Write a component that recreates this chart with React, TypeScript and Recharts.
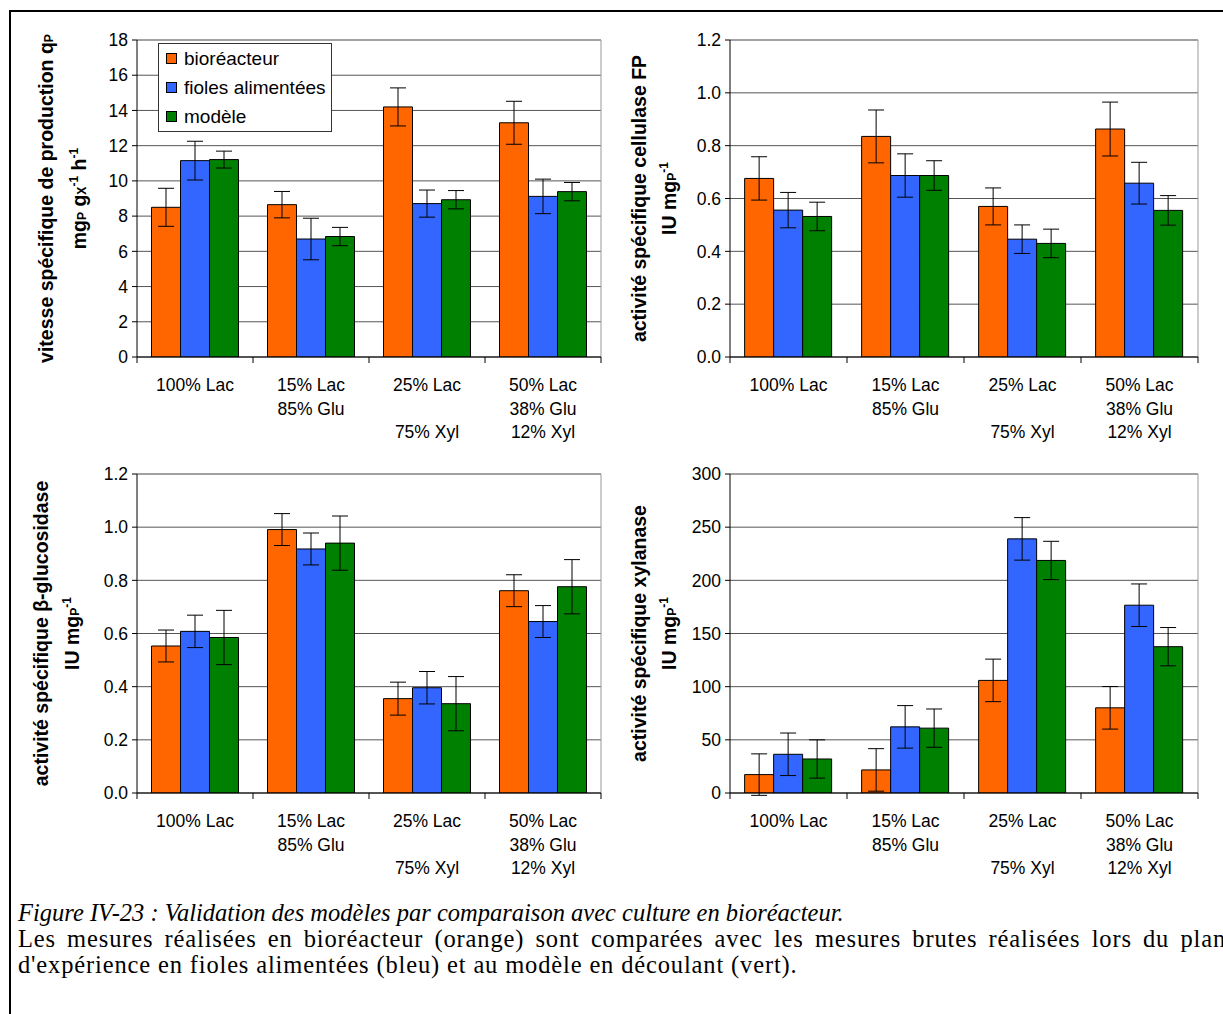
import React from "react";
import { BarChart, Bar, XAxis, YAxis, CartesianGrid, ErrorBar, Legend, ReferenceLine } from "recharts";

const categories = ["100% Lac", "15% Lac\n85% Glu", "25% Lac\n\n75% Xyl", "50% Lac\n38% Glu\n12% Xyl"];
const seriesNames = ["bioréacteur", "fioles alimentées", "modèle"];
const seriesColors = ["#FF6600", "#3366FF", "#008000"];

// vitesse spécifique de production qP
const qpBio = [8.5, 8.65, 14.2, 13.3];
const qpBioErr = [1.08, 0.75, 1.08, 1.22];
const qpFed = [11.15, 6.7, 8.71, 9.12];
const qpFedErr = [1.1, 1.18, 0.77, 0.98];
const qpModel = [11.21, 6.84, 8.93, 9.39];
const qpModelErr = [0.48, 0.52, 0.52, 0.52];
const qpTicks = [0, 2, 4, 6, 8, 10, 12, 14, 16, 18];

// cellulase FP
const fpBio = [0.676, 0.835, 0.57, 0.863];
const fpBioErr = [0.082, 0.1, 0.07, 0.102];
const fpFed = [0.556, 0.687, 0.446, 0.658];
const fpFedErr = [0.067, 0.082, 0.054, 0.079];
const fpModel = [0.532, 0.687, 0.43, 0.555];
const fpModelErr = [0.054, 0.056, 0.054, 0.056];
const fpTicks = [0, 0.2, 0.4, 0.6, 0.8, 1.0, 1.2];

// β-glucosidase
const bgBio = [0.553, 0.991, 0.355, 0.761];
const bgBioErr = [0.06, 0.06, 0.062, 0.06];
const bgFed = [0.608, 0.918, 0.396, 0.645];
const bgFedErr = [0.061, 0.06, 0.061, 0.06];
const bgModel = [0.585, 0.94, 0.336, 0.776];
const bgModelErr = [0.102, 0.102, 0.102, 0.102];
const bgTicks = [0, 0.2, 0.4, 0.6, 0.8, 1.0, 1.2];

// xylanase
const xyBio = [17.3, 21.7, 105.9, 80.1];
const xyBioErr = [19.5, 20, 20, 20];
const xyFed = [36.4, 62.2, 239, 176.6];
const xyFedErr = [20, 20, 20, 20];
const xyModel = [32, 61, 218.7, 137.6];
const xyModelErr = [18, 18, 18, 18];
const xyTicks = [0, 50, 100, 150, 200, 250, 300];

const FONT = "'Liberation Sans', Arial, sans-serif";
const TICK_FS = 17.5;
const LABEL_FS = 19.5;

type LabelPart = { t: string; k?: "sub" | "sup" };

const qpLabel1: LabelPart[] = [{ t: "vitesse spécifique de production q" }, { t: "P", k: "sub" }];
const qpLabel2: LabelPart[] = [
  { t: "mg" }, { t: "P", k: "sub" }, { t: " g" }, { t: "X", k: "sub" }, { t: "-1", k: "sup" },
  { t: " h" }, { t: "-1", k: "sup" },
];
const iuLabel: LabelPart[] = [{ t: "IU mg" }, { t: "P", k: "sub" }, { t: "-1", k: "sup" }];

function buildRows(a: number[], ae: number[], b: number[], be: number[], c: number[], ce: number[]) {
  return categories.map((cat, i) => ({
    cat, s0: a[i], e0: ae[i], s1: b[i], e1: be[i], s2: c[i], e2: ce[i],
  }));
}

function renderParts(parts: LabelPart[], size: number) {
  const out: React.ReactNode[] = [];
  let shift = 0;
  parts.forEach((p, i) => {
    let target = 0;
    let fs = size;
    if (p.k === "sub") { target = 0; fs = size * 0.62; }
    if (p.k === "sup") { target = -size * 0.42; fs = size * 0.62; }
    const dy = target - shift;
    shift = target;
    out.push(
      <tspan key={i} dy={dy} fontSize={fs}>{p.t}</tspan>
    );
  });
  return out;
}

const CatTick = (props: any) => {
  const { x, y, payload, index, band, count } = props;
  const lines = String(payload.value).split("\n");
  return (
    <g>
      <line x1={x - band / 2} x2={x - band / 2} y1={y} y2={y + 6} stroke="#000" />
      {index === count - 1 && (
        <line x1={x + band / 2} x2={x + band / 2} y1={y} y2={y + 6} stroke="#000" />
      )}
      {lines.map((l: string, i: number) => (
        <text key={i} x={x} y={y + 34 + i * 23.5} textAnchor="middle" fontSize={TICK_FS} fill="#000" fontFamily={FONT}>
          {l}
        </text>
      ))}
    </g>
  );
};

const LegendBox = () => (
  <div
    style={{
      width: 172, height: 87, background: "#fff", border: "1px solid #333",
      fontFamily: FONT, fontSize: 19, color: "#000", boxSizing: "content-box",
    }}
  >
    {seriesNames.map((n, i) => (
      <div key={n} style={{ display: "flex", alignItems: "center", height: 29, paddingLeft: 7 }}>
        <span style={{ width: 9, height: 9, background: seriesColors[i], border: "1px solid #000", marginRight: 7 }} />
        {n}
      </div>
    ))}
  </div>
);

type PanelProps = {
  left: number; top: number; width: number; height: number;
  margin: { top: number; right: number; bottom: number; left: number };
  rows: any[]; ticks: number[]; decimals: number;
  label1: LabelPart[]; label2: LabelPart[]; l1x: number; l2x: number;
  showLegend?: boolean;
};

function Panel(p: PanelProps) {
  const plotLeft = p.margin.left + 60;
  const plotRight = p.width - p.margin.right;
  const band = (plotRight - plotLeft) / categories.length;
  const midY = p.margin.top + (p.height - p.margin.top - p.margin.bottom - 30) / 2;
  const max = p.ticks[p.ticks.length - 1];
  return (
    <div style={{ position: "absolute", left: p.left, top: p.top }}>
      <BarChart
        width={p.width}
        height={p.height}
        data={p.rows}
        margin={p.margin}
        barCategoryGap="12.5%"
        barGap={0}
      >
        <CartesianGrid vertical={false} stroke="#555" />
        <CartesianGrid horizontal={false} verticalPoints={[plotRight]} stroke="#999" />
        <ReferenceLine y={max} stroke="#999" />
        <XAxis
          dataKey="cat"
          height={30}
          interval={0}
          tickLine={false}
          tickSize={0}
          tickMargin={0}
          axisLine={{ stroke: "#000" }}
          tick={(tp: any) => <CatTick {...tp} band={band} count={categories.length} />}
        />
        <YAxis
          width={60}
          domain={[0, max]}
          allowDataOverflow
          ticks={p.ticks}
          interval={0}
          tickSize={5}
          tickMargin={4}
          axisLine={{ stroke: "#000" }}
          tickLine={{ stroke: "#000" }}
          tick={{ fontSize: TICK_FS, fill: "#000", fontFamily: FONT }}
          tickFormatter={(v: number) => v.toFixed(p.decimals)}
          label={{
            content: () => (
              <g fontFamily={FONT} fontWeight="bold" fill="#000">
                <text transform={`translate(${p.l1x},${midY}) rotate(-90)`} textAnchor="middle" fontSize={LABEL_FS}>
                  {renderParts(p.label1, LABEL_FS)}
                </text>
                <text transform={`translate(${p.l2x},${midY}) rotate(-90)`} textAnchor="middle" fontSize={LABEL_FS}>
                  {renderParts(p.label2, LABEL_FS)}
                </text>
              </g>
            ),
          }}
        />
        {p.showLegend && (
          <Legend
            content={() => <LegendBox />}
            layout="vertical"
            align="center"
            verticalAlign="middle"
            wrapperStyle={{ position: "absolute", left: 158, top: 43, width: 174, height: 89 }}
          />
        )}
        {[0, 1, 2].map((s) => (
          <Bar
            key={s}
            dataKey={`s${s}`}
            name={seriesNames[s]}
            fill={seriesColors[s]}
            stroke="#000"
            strokeWidth={1}
            isAnimationActive={false}
          >
            <ErrorBar dataKey={`e${s}`} width={8} stroke="#000" strokeWidth={1} direction="y" />
          </Bar>
        ))}
      </BarChart>
    </div>
  );
}

export default function App() {
  const qpRows = buildRows(qpBio, qpBioErr, qpFed, qpFedErr, qpModel, qpModelErr);
  const fpRows = buildRows(fpBio, fpBioErr, fpFed, fpFedErr, fpModel, fpModelErr);
  const bgRows = buildRows(bgBio, bgBioErr, bgFed, bgFedErr, bgModel, bgModelErr);
  const xyRows = buildRows(xyBio, xyBioErr, xyFed, xyFedErr, xyModel, xyModelErr);

  return (
    <div style={{ position: "absolute", left: 0, top: 0, width: 1223, height: 1014, overflow: "hidden", background: "#fff" }}>
      {/* frame */}
      <div style={{ position: "absolute", left: 9, top: 10, width: 1300, height: 1100, border: "2px solid #000" }} />

      <Panel
        left={0} top={0} width={620} height={450}
        margin={{ top: 40, right: 19, bottom: 63, left: 77 }}
        rows={qpRows} ticks={qpTicks} decimals={0}
        label1={qpLabel1} label2={qpLabel2} l1x={53} l2x={86}
        showLegend
      />
      <Panel
        left={600} top={0} width={623} height={450}
        margin={{ top: 40, right: 25, bottom: 63, left: 70 }}
        rows={fpRows} ticks={fpTicks} decimals={1}
        label1={[{ t: "activité spécifique cellulase FP" }]} label2={iuLabel} l1x={46} l2x={76}
      />
      <Panel
        left={0} top={450} width={620} height={440}
        margin={{ top: 24, right: 19, bottom: 67, left: 77 }}
        rows={bgRows} ticks={bgTicks} decimals={1}
        label1={[{ t: "activité spécifique β-glucosidase" }]} label2={iuLabel} l1x={48} l2x={79}
      />
      <Panel
        left={600} top={450} width={623} height={440}
        margin={{ top: 24, right: 25, bottom: 67, left: 70 }}
        rows={xyRows} ticks={xyTicks} decimals={0}
        label1={[{ t: "activité spécifique xylanase" }]} label2={iuLabel} l1x={46} l2x={76}
      />

      <div
        style={{
          position: "absolute", left: 18, top: 900, width: 1208,
          fontFamily: "'Liberation Serif', 'Times New Roman', serif", fontSize: 24.5, lineHeight: "26px",
          color: "#000", whiteSpace: "nowrap",
        }}
      >
        <div style={{ fontStyle: "italic" }}>
          Figure IV-23 : Validation des modèles par comparaison avec culture en bioréacteur.
        </div>
        <div style={{ textAlign: "justify", textAlignLast: "justify", whiteSpace: "normal", letterSpacing: 0.85 }}>
          Les mesures réalisées en bioréacteur (orange) sont comparées avec les mesures brutes réalisées lors du plan
        </div>
        <div style={{ letterSpacing: 0.85 }}>
          d'expérience en fioles alimentées (bleu) et au modèle en découlant (vert).
        </div>
      </div>
    </div>
  );
}
